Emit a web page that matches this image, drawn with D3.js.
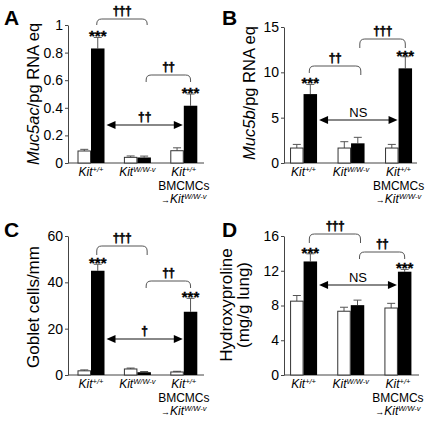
<!DOCTYPE html>
<html><head><meta charset="utf-8">
<script src="https://cdn.jsdelivr.net/npm/d3@7"></script>
<style>
body{margin:0;background:#fff}
svg{display:block}
text{font-family:"Liberation Sans",Arial,Helvetica,sans-serif;fill:#000}
</style>
</head><body><svg id="chart" width="433" height="426"></svg>
<script>
// ---------- DATA ----------
const groups = ["Kit+/+", "KitW/W-v", "Kit+/+ BMCMCs \u2192KitW/W-v"];
const series = ["Saline", "OVA"];

const muc5acSaline    = [0.087, 0.041, 0.089];
const muc5acSalineErr = [0.012, 0.010, 0.021];
const muc5acOva       = [0.83, 0.040, 0.415];
const muc5acOvaErr    = [0.080, 0.010, 0.085];
const muc5acTicks     = [0, 0.2, 0.4, 0.6, 0.8, 1];
const muc5acTickLabels = ["0", "0.2", "0.4", "0.6", "0.8", "1"];

const muc5bSaline    = [1.65, 1.65, 1.65];
const muc5bSalineErr = [0.40, 0.70, 0.40];
const muc5bOva       = [7.6, 2.17, 10.44];
const muc5bOvaErr    = [1.07, 0.66, 1.28];
const muc5bTicks     = [0, 5, 10, 15];
const muc5bTickLabels = ["0", "5", "10", "15"];

const gobletSaline    = [1.8, 2.6, 1.3];
const gobletSalineErr = [0.4, 0.4, 0.3];
const gobletOva       = [45.0, 1.2, 27.3];
const gobletOvaErr    = [2.8, 0.3, 5.8];
const gobletTicks     = [0, 20, 40, 60];
const gobletTickLabels = ["0", "20", "40", "60"];

const hydroxySaline    = [8.5, 7.34, 7.71];
const hydroxySalineErr = [0.65, 0.46, 0.54];
const hydroxyOva       = [13.07, 8.04, 11.89];
const hydroxyOvaErr    = [0.88, 0.58, 0.27];
const hydroxyTicks     = [0, 4, 8, 12, 16];
const hydroxyTickLabels = ["0", "4", "8", "12", "16"];

// significance annotations: bracket pairs (group indexes) + labels, arrow label
const sigA = {brackets: [[0, 1, "\u2020\u2020\u2020"], [1, 2, "\u2020\u2020"]], arrow: "\u2020\u2020"};
const sigB = {brackets: [[0, 1, "\u2020\u2020"], [1, 2, "\u2020\u2020\u2020"]], arrow: "NS"};
const sigC = {brackets: [[0, 1, "\u2020\u2020\u2020"], [1, 2, "\u2020\u2020"]], arrow: "\u2020"};
const sigD = {brackets: [[0, 1, "\u2020\u2020\u2020"], [1, 2, "\u2020\u2020"]], arrow: "NS"};
const starLabel = "***";

// ---------- LAYOUT ----------
const panels = [
  {letter: "A", lx: 4, ly: 25, axisX: 68, bandX: [67.8, 207], axisEnd: 204, yRange: [163, 25],
   domain: [0, 1], ticks: muc5acTicks, tickLabels: muc5acTickLabels,
   saline: muc5acSaline, salineErr: muc5acSalineErr, ova: muc5acOva, ovaErr: muc5acOvaErr,
   title: [[["Muc5ac", true], ["/pg RNA eq", false]]], titleX: [39], titleY: 94, titleSize: 16.5,
   sig: sigA, bracketY: [[19, 25, 25], [75, 82, 82]], arrowY: 125, labelY0: 176},
  {letter: "B", lx: 222, ly: 25, axisX: 284, bandX: [279.8, 422.3], axisEnd: 417, yRange: [163, 27],
   domain: [0, 15], ticks: muc5bTicks, tickLabels: muc5bTickLabels,
   saline: muc5bSaline, salineErr: muc5bSalineErr, ova: muc5bOva, ovaErr: muc5bOvaErr,
   title: [[["Muc5b", true], ["/pg RNA eq", false]]], titleX: [255], titleY: 93, titleSize: 16.5,
   sig: sigB, bracketY: [[66, 73, 75], [39, 48, 48]], arrowY: 120, labelY0: 176},
  {letter: "C", lx: 4, ly: 237, axisX: 68, bandX: [67.8, 207], axisEnd: 204, yRange: [375, 236],
   domain: [0, 60], ticks: gobletTicks, tickLabels: gobletTickLabels,
   saline: gobletSaline, salineErr: gobletSalineErr, ova: gobletOva, ovaErr: gobletOvaErr,
   title: [[["Goblet cells/mm", false]]], titleX: [39], titleY: 307, titleSize: 17,
   sig: sigC, bracketY: [[246, 255, 255], [281, 288, 288]], arrowY: 339, labelY0: 388},
  {letter: "D", lx: 222, ly: 237, axisX: 284, bandX: [280, 421.5], axisEnd: 419, yRange: [375, 236],
   domain: [0, 16], ticks: hydroxyTicks, tickLabels: hydroxyTickLabels,
   saline: hydroxySaline, salineErr: hydroxySalineErr, ova: hydroxyOva, ovaErr: hydroxyOvaErr,
   title: [[["Hydroxyproline", false]], [["(mg/g lung)", false]]], titleX: [232, 249], titleY: 305, titleSize: 17,
   sig: sigD, bracketY: [[234, 243, 243], [252, 259, 259]], arrowY: 285, labelY0: 388}
];

const svg = d3.select("#chart");
const barW = 13.5;

panels.forEach(p => {
  const g = svg.append("g");
  const x = d3.scaleBand().domain(d3.range(groups.length)).range(p.bandX);
  const cx = i => x(i) + x.bandwidth() / 2;
  const y = d3.scaleLinear().domain(p.domain).range(p.yRange);

  // panel letter
  g.append("text").attr("x", p.lx).attr("y", p.ly).attr("font-size", 21).attr("font-weight", "bold").text(p.letter);

  // y axis
  const ax = g.append("g").attr("transform", `translate(${p.axisX},0)`)
    .call(d3.axisLeft(y).tickValues(p.ticks).tickSize(3).tickSizeOuter(0).tickPadding(2)
      .tickFormat((d, i) => p.tickLabels[i]));
  ax.select(".domain").attr("stroke", "#444").attr("stroke-width", 1);
  ax.selectAll(".tick line").attr("stroke", "#444");
  ax.selectAll(".tick text").attr("font-size", 14).attr("font-family", "Liberation Sans, Arial, sans-serif").attr("fill", "#000");

  // x baseline
  g.append("line").attr("x1", p.axisX).attr("x2", p.axisEnd).attr("y1", y(0)).attr("y2", y(0))
    .attr("stroke", "#444").attr("stroke-width", 1);

  // y title
  p.title.forEach((line, li) => {
    const t = g.append("text").attr("transform", `translate(${p.titleX[li]},${p.titleY}) rotate(-90)`)
      .attr("text-anchor", "middle").attr("font-size", p.titleSize);
    line.forEach(([s, it]) => t.append("tspan").attr("font-style", it ? "italic" : "normal").text(s));
  });

  // bars
  const data = groups.map((gname, i) => ({i, s: p.saline[i], se: p.salineErr[i], o: p.ova[i], oe: p.ovaErr[i]}));
  data.forEach(d => {
    const c = cx(d.i);
    [[c - barW / 2, d.s, d.se], [c + barW / 2, d.o, d.oe]].forEach(([ex, v, e]) => {
      g.append("line").attr("x1", ex).attr("x2", ex).attr("y1", y(v)).attr("y2", y(v + e))
        .attr("stroke", "#555").attr("stroke-width", 1);
      g.append("line").attr("x1", ex - 4).attr("x2", ex + 4).attr("y1", y(v + e)).attr("y2", y(v + e))
        .attr("stroke", "#555").attr("stroke-width", 1);
    });
    g.append("rect").attr("x", c - barW + 0.5).attr("y", y(d.s)).attr("width", barW - 1).attr("height", y(0) - y(d.s))
      .attr("fill", "#fff").attr("stroke", "#333").attr("stroke-width", 1);
    g.append("rect").attr("x", c).attr("y", y(d.o)).attr("width", barW).attr("height", y(0) - y(d.o))
      .attr("fill", "#000");
  });

  // stars on OVA bars for groups 0 and 2
  [0, 2].forEach(i => {
    g.append("text").attr("x", cx(i) + barW / 2).attr("y", y(p.ova[i] + p.ovaErr[i]) + 4)
      .attr("text-anchor", "middle").attr("font-size", 15).attr("font-weight", "bold")
      .attr("stroke", "#000").attr("stroke-width", 0.3).text(starLabel);
  });

  // brackets
  p.sig.brackets.forEach(([a, b, lab], k) => {
    const [top, e1, e2] = p.bracketY[k];
    const x1 = cx(a) + barW / 2 + (k === 0 ? -1 : 2);
    const x2 = cx(b) + barW / 2 + (k === 0 ? 3 : 0);
    const r = 5;
    g.append("path").attr("d",
      `M${x1},${e1} L${x1},${top + r} Q${x1},${top} ${x1 + r},${top} L${x2 - r},${top} Q${x2},${top} ${x2},${top + r} L${x2},${e2}`)
      .attr("fill", "none").attr("stroke", "#555").attr("stroke-width", 1);
    g.append("text").attr("x", (x1 + x2) / 2).attr("y", top - 4).attr("text-anchor", "middle")
      .attr("font-size", 12).attr("font-weight", "bold").attr("letter-spacing", -0.5)
      .attr("stroke", "#000").attr("stroke-width", 0.5).text(lab);
  });

  // double arrow between OVA bars 0 and 2
  const xa = cx(0) + barW + 2, xb = cx(2) - 1, ay = p.arrowY;
  g.append("line").attr("x1", xa + 6).attr("x2", xb - 6).attr("y1", ay).attr("y2", ay)
    .attr("stroke", "#888").attr("stroke-width", 2);
  g.append("path").attr("d", `M${xa},${ay} L${xa + 9},${ay - 4} L${xa + 9},${ay + 4} Z`).attr("fill", "#000");
  g.append("path").attr("d", `M${xb},${ay} L${xb - 9},${ay - 4} L${xb - 9},${ay + 4} Z`).attr("fill", "#000");
  const isNS = p.sig.arrow === "NS";
  const at = g.append("text").attr("x", (xa + xb) / 2).attr("y", ay - (isNS ? 3 : 4)).attr("text-anchor", "middle")
    .attr("font-size", isNS ? 13 : 12).attr("font-weight", isNS ? "normal" : "bold").text(p.sig.arrow);
  if (!isNS) at.attr("stroke", "#000").attr("stroke-width", 0.5);

  // x labels
  const kitLabel = (xx, yy, sup, arrow) => {
    const t = g.append("text").attr("x", xx).attr("y", yy).attr("text-anchor", "middle").attr("font-size", 12);
    if (arrow) t.append("tspan").attr("font-size", 9).text("\u2192");
    t.append("tspan").attr("font-style", "italic").text("Kit");
    t.append("tspan").attr("font-style", "italic").attr("font-size", 7.5).attr("dy", -4).text(sup);
  };
  const ly = p.labelY0;
  kitLabel(cx(0), ly, "+/+");
  kitLabel(cx(1), ly, "W/W-v");
  kitLabel(cx(2), ly, "+/+");
  g.append("text").attr("x", cx(2)).attr("y", ly + 14).attr("text-anchor", "middle").attr("font-size", 12).text("BMCMCs");
  kitLabel(cx(2), ly + 27, "W/W-v", true);
});
</script></body></html>
